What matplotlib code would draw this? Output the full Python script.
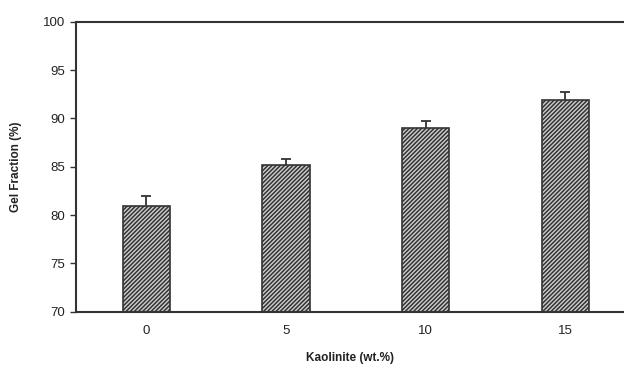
import matplotlib
matplotlib.use("Agg")
import matplotlib.pyplot as plt
import numpy as np

plt.rcParams['font.family'] = ['Liberation Sans', 'DejaVu Sans']
plt.rcParams['hatch.color'] = '#2a2a2a'
plt.rcParams['hatch.linewidth'] = 1.1

categories = ['0', '5', '10', '15']
gel_fraction = [80.9, 85.2, 89.0, 91.9]
errors = [1.1, 0.65, 0.73, 0.8]

fig = plt.figure(figsize=(6.24, 3.67), dpi=100)
ax = fig.add_axes([0.1218, 0.1507, 0.8782, 0.790])

x = np.arange(len(categories))
ax.errorbar(x, gel_fraction, yerr=errors, fmt='none', ecolor='#333333',
            elinewidth=1.3, capsize=3.5, capthick=1.3, zorder=1)
ax.bar(x, gel_fraction, width=0.34, color='#cfcfcf', edgecolor='#333333',
       linewidth=1.2, hatch='////////', zorder=2)

ax.set_ylim(70, 100)
ax.set_xlim(-0.503, 3.42)
ax.set_yticks([70, 75, 80, 85, 90, 95, 100])
ax.set_xticks(x)
ax.set_xticklabels(categories)
ax.tick_params(axis='x', length=0, pad=9.5, labelsize=9.5, colors='#222222')
ax.tick_params(axis='y', length=4, width=1, color='#333333', labelsize=9.5, pad=4, labelcolor='#222222')

for s in ['left', 'top', 'bottom']:
    ax.spines[s].set_color('#333333')
    ax.spines[s].set_linewidth(1.5)
ax.spines['right'].set_visible(False)

ax.set_ylabel('Gel Fraction (%)', fontsize=8.5, fontweight='bold', labelpad=15, color='#222222')
ax.set_xlabel('Kaolinite (wt.%)', fontsize=8.5, fontweight='bold', labelpad=11, color='#222222')

fig.savefig('out.png', dpi=100)
